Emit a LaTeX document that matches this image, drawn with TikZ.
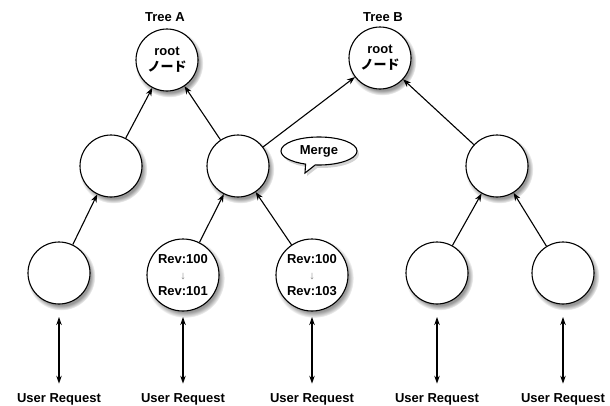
\documentclass[tikz,border=0pt]{standalone}
\usepackage{fontspec}
\setmainfont{Liberation Sans}
\newfontfamily\jpfont{Noto Sans CJK JP}
\usetikzlibrary{arrows.meta,shadows,shapes.callouts}

\begin{document}
\begin{tikzpicture}[x=1pt,y=-1pt,font=\fontsize{13}{16}\selectfont\bfseries,
  nd/.style={circle,draw,line width=1.1pt,fill=white,minimum size=62pt,inner sep=0pt,align=center,
    circular drop shadow={shadow xshift=2pt,shadow yshift=-3pt,shadow scale=1.1,opacity=0.8}},
  rev/.style={nd,minimum size=72pt},
  up/.style={line width=1.1pt,-{Stealth[length=8pt,width=6pt]}},
  req/.style={line width=1.1pt,{Stealth[length=8pt,width=5.5pt]}-{Stealth[length=8pt,width=5.5pt]},shorten >=6pt}]
  \useasboundingbox (0,0) rectangle (610,405);

  \node (ta) at (165,17) {Tree A};
  \node (tb) at (383,17) {Tree B};
  \node[nd] (ra) at (167,60) {root\\\jpfont ノード};
  \node[nd] (rb) at (380,58) {root\\\jpfont ノード};

  \node[nd] (a1) at (111,166) {};
  \node[nd] (a2) at (238,166) {};
  \node[nd] (b1) at (497,166) {};

  \node[nd] (l1) at (59,273) {};
  \node[rev] (l2) at (183,275) {Rev:100\\{\color{gray}\mdseries\fontsize{11}{11}\selectfont ↓}\\Rev:101};
  \node[rev] (l3) at (312,275) {Rev:100\\{\color{gray}\mdseries\fontsize{11}{11}\selectfont ↓}\\Rev:103};
  \node[nd] (l4) at (437,273) {};
  \node[nd] (l5) at (563,273) {};

  \draw[up] (l1) -- (a1);
  \draw[up] (l2) -- (a2);
  \draw[up] (l3) -- (a2);
  \draw[up] (a1) -- (ra);
  \draw[up] (a2) -- (ra);
  \draw[up] (a2) -- (rb);
  \draw[up] (l4) -- (b1);
  \draw[up] (l5) -- (b1);
  \draw[up] (b1) -- (rb);

  \node[ellipse callout,draw,line width=1.1pt,fill=white,minimum width=76pt,minimum height=28pt,inner sep=0pt,
    callout absolute pointer={(305,173)},drop shadow={opacity=0.35,shadow xshift=2pt,shadow yshift=-3pt}]
    (mg) at (319,151) {Merge};

  \foreach \x [count=\i] in {59,183,312,437,563} {
    \node (u\i) at (\x,399) {User Request};
    \coordinate (t\i) at (\x,317);
    \draw[req] (t\i) -- (u\i);
  }
\end{tikzpicture}
\end{document}
